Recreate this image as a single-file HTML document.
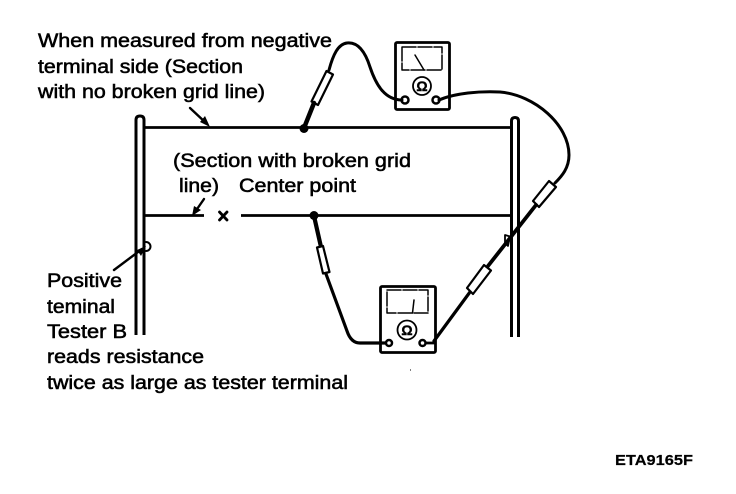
<!DOCTYPE html>
<html>
<head>
<meta charset="utf-8">
<style>
html,body{margin:0;padding:0;background:#fff;width:736px;height:494px;overflow:hidden}
svg{display:block}
text{font-family:"Liberation Sans",Arial,sans-serif;font-size:19.5px;fill:#000;stroke:#000;stroke-width:.55px}
</style>
</head>
<body>
<svg width="736" height="494" viewBox="0 0 736 494" xmlns="http://www.w3.org/2000/svg">
<g fill="none" stroke="#000" stroke-linecap="round" stroke-linejoin="round">
  <!-- bars -->
  <path d="M136 335V120Q136 116 140 116Q144 116 144 120V335" stroke-width="3" stroke-linecap="butt"/>
  <path d="M511.500 337V121Q511.500 117.500 515 117.500Q518.500 117.500 518.500 121V337" stroke-width="3" stroke-linecap="butt"/>
  <!-- grid lines -->
  <path d="M145 127.500H510" stroke-width="2.800" stroke-linecap="butt"/>
  <path d="M145 215.500H204M241 215.500H510" stroke-width="2.800" stroke-linecap="butt"/>
  <!-- x -->
  <path d="M219.500 212L227 220M227 212L219.500 220" stroke-width="2.800"/>
  <!-- arrows -->
  <path d="M190 108L206 123" stroke-width="2.400"/>
  <path d="M204 199L195 212" stroke-width="2.400"/>
  <path d="M114 270L142 249" stroke-width="2.400"/>
  <path d="M146 242A4.500 4.500 0 0 1 146 251" stroke-width="2"/>
  <!-- tester 1 -->
  <rect x="395.500" y="42.500" width="54" height="67" rx="1.500" stroke-width="2.800" fill="#fff"/>
  <path d="M402 47H442V70H402Z" stroke-width="1.500" stroke-dasharray="14 2"/>
  <path d="M415 55L424 70" stroke-width="1.500"/>
  <circle cx="422" cy="86" r="9" stroke-width="1.800"/>
  <circle cx="405" cy="100" r="3.500" stroke-width="2.500"/>
  <circle cx="436" cy="100" r="3.500" stroke-width="2.500"/>
  <!-- wire tester 1 left -->
  <path d="M402 100C385 100 376 85 370 67C364 48 356 42 347 43C338 44 333 55 329 70" stroke-width="3"/>
  <path d="M326.500 71L333 74.500L318 105L311.500 101.500Z" stroke-width="2.200" fill="#fff"/>
  <path d="M314 103L304 128" stroke-width="4.500"/>
  <circle cx="304" cy="128.500" r="4.500" fill="#000" stroke="none"/>
  <!-- wire tester 1 right -->
  <path d="M439 100C455 93 480 91 500 92C535 95 569 125 569 155C569 168 562 176 555 183" stroke-width="3"/>
  <path d="M549 181L556 187L539 207L533 201Z" stroke-width="2.200" fill="#fff"/>
  <path d="M536 205L488 266" stroke-width="3.800"/>
  <path d="M505 235L510 236.500L508 246L505 243Z" stroke-width="1.800"/>
  <path d="M484 265L491 270.500L473 294L467 288Z" stroke-width="2.200" fill="#fff"/>
  <path d="M470 292L434 341" stroke-width="3.200"/>
  <path d="M426 343H434" stroke-width="2.800"/>
  <!-- tester 2 -->
  <rect x="380.500" y="286.500" width="55" height="66" rx="1.500" stroke-width="2.800"/>
  <path d="M387 290H428V313H387Z" stroke-width="1.500" stroke-dasharray="14 2"/>
  <path d="M414 300L412.500 313" stroke-width="1.500"/>
  <circle cx="407" cy="330" r="9.500" stroke-width="1.800"/>
  <circle cx="389" cy="343" r="3" stroke-width="2.500"/>
  <circle cx="422.500" cy="343" r="3" stroke-width="2.500"/>
  <!-- wire tester 2 -->
  <circle cx="314" cy="215.500" r="4.500" fill="#000" stroke="none"/>
  <path d="M314 216L321 247" stroke-width="4.200"/>
  <path d="M317 247.500L323 246L329.500 272L323 273.500Z" stroke-width="2.200" fill="#fff"/>
  <path d="M326 274L347 331Q351 343 360 343H385" stroke-width="3.200"/>
</g>
<polygon points="210,127 200,122 205,116" fill="#000"/>
<polygon points="192,216 194,206 201,210" fill="#000"/>
<polygon points="146,246 137,250 141,256" fill="#000"/>
<text x="38" y="47" textLength="294" lengthAdjust="spacingAndGlyphs">When measured from negative</text>
<text x="38" y="73" textLength="205" lengthAdjust="spacingAndGlyphs">terminal side (Section</text>
<text x="38" y="98" textLength="227" lengthAdjust="spacingAndGlyphs">with no broken grid line)</text>
<text x="173" y="167" textLength="238" lengthAdjust="spacingAndGlyphs">(Section with broken grid</text>
<text x="179" y="192" textLength="40" lengthAdjust="spacingAndGlyphs">line)</text>
<text x="239" y="192" textLength="117" lengthAdjust="spacingAndGlyphs">Center point</text>
<text x="47" y="287" textLength="75" lengthAdjust="spacingAndGlyphs">Positive</text>
<text x="47" y="313" textLength="68" lengthAdjust="spacingAndGlyphs">teminal</text>
<text x="47" y="338" textLength="80" lengthAdjust="spacingAndGlyphs">Tester B</text>
<text x="47" y="363" textLength="157" lengthAdjust="spacingAndGlyphs">reads resistance</text>
<text x="47" y="389" textLength="301" lengthAdjust="spacingAndGlyphs">twice as large as tester terminal</text>
<text x="615" y="465" textLength="78" lengthAdjust="spacingAndGlyphs" style="font-size:14.5px;font-weight:bold;stroke-width:.2px">ETA9165F</text>
<text x="422" y="91" text-anchor="middle" style="font-size:14px;font-weight:bold;stroke-width:.4px">Ω</text>
<text x="407" y="335" text-anchor="middle" style="font-size:14px;font-weight:bold;stroke-width:.4px">Ω</text>
<rect x="410" y="369.500" width="1" height="1" fill="#000"/>
</svg>
</body>
</html>
